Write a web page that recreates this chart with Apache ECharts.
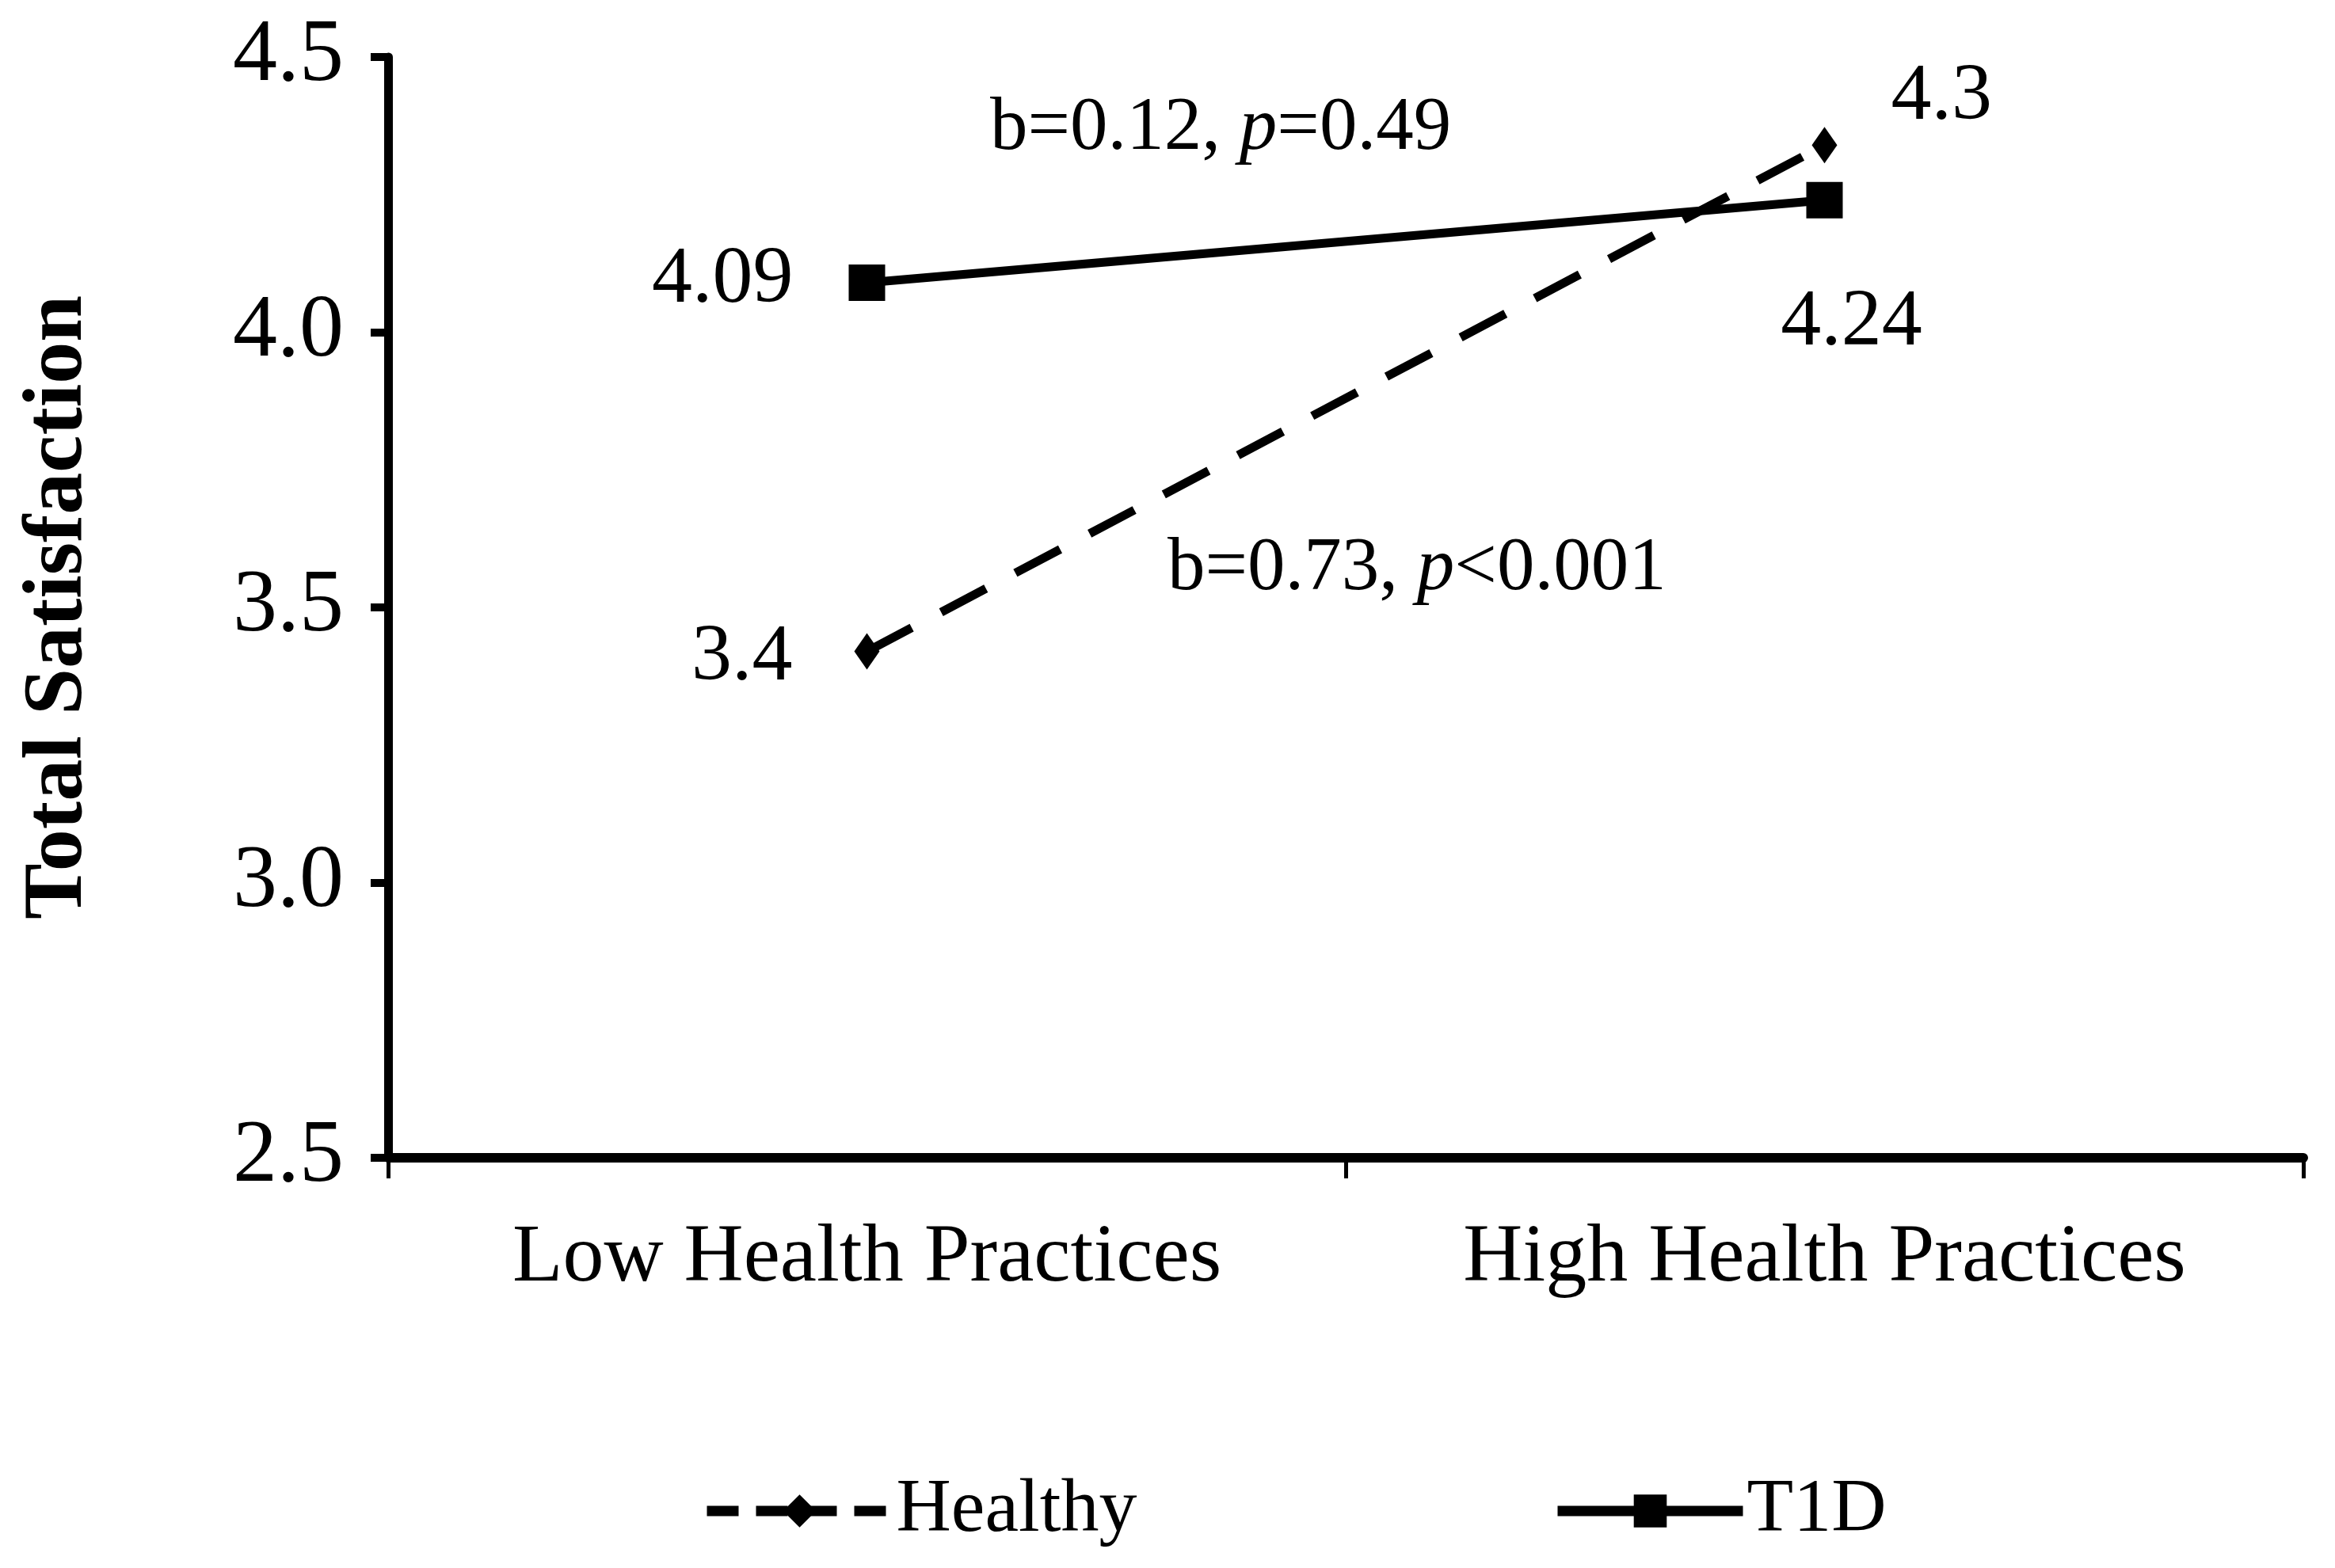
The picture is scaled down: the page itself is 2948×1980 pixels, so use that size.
<!DOCTYPE html>
<html>
<head>
<meta charset="utf-8">
<script src="https://cdn.jsdelivr.net/npm/echarts@6/dist/echarts.min.js"></script>
<style>
html,body{margin:0;padding:0;background:#fff;}
#chart{width:2948px;height:1980px;}
</style>
</head>
<body>
<div id="chart"></div>
<script>
const categories = ['Low Health Practices', 'High Health Practices'];
const healthyValues = [3.42, 4.34];
const healthyLabels = ['3.4', '4.3'];
const t1dValues = [4.09, 4.24];
const t1dLabels = ['4.09', '4.24'];
const yTicks = [2.5, 3.0, 3.5, 4.0, 4.5];
const annotations = ['b=0.12, ', 'p', '=0.49', 'b=0.73, ', 'p', '<0.001'];

const FONT = '"Liberation Serif", "Times New Roman", serif';

const healthyLabelCfg = [
  {position: 'left', distance: 78, offset: [0, 9]},
  {position: 'right', distance: 68, offset: [0, -60]}
];
const t1dLabelCfg = [
  {position: 'left', distance: 70, offset: [0, -3]},
  {position: 'bottom', distance: 82, offset: [34, 0]}
];

function buildData(values, labels, cfg) {
  return values.map((v, i) => ({
    value: v,
    label: Object.assign({
      show: true,
      formatter: labels[i],
      fontFamily: FONT,
      fontSize: 102,
      color: '#000'
    }, cfg[i])
  }));
}

const chart = echarts.init(document.getElementById('chart'));
chart.setOption({
  backgroundColor: '#fff',
  animation: false,
  grid: {left: 490, right: 40, top: 72, bottom: 518, containLabel: false},
  legend: [
    {
      data: ['Healthy'], left: 881, top: 1855,
      itemWidth: 234, itemHeight: 52, itemGap: 10,
      lineStyle: {width: 13, type: [40, 22]},
      textStyle: {fontFamily: FONT, fontSize: 96, color: '#000'}
    },
    {
      data: ['T1D'], left: 1955, top: 1855,
      itemWidth: 234, itemHeight: 52, itemGap: 10,
      lineStyle: {width: 13},
      textStyle: {fontFamily: FONT, fontSize: 96, color: '#000'}
    }
  ],
  xAxis: {
    type: 'category',
    data: categories,
    boundaryGap: true,
    axisLine: {show: true, lineStyle: {color: '#000', width: 12}},
    axisTick: {show: true, length: 26, lineStyle: {color: '#000', width: 5}},
    axisLabel: {fontFamily: FONT, fontSize: 104, color: '#000', margin: 76},
    splitLine: {show: false}
  },
  yAxis: {
    type: 'value',
    min: 2.5, max: 4.5, interval: 0.5,
    name: 'Total Satisfaction',
    nameLocation: 'middle',
    nameGap: 362,
    nameRotate: 90,
    nameTextStyle: {fontFamily: FONT, fontSize: 106, fontWeight: 'bold', color: '#000'},
    axisLine: {show: true, lineStyle: {color: '#000', width: 11}},
    axisTick: {show: true, length: 22, lineStyle: {color: '#000', width: 10}},
    axisLabel: {
      fontFamily: FONT, fontSize: 112, color: '#000', margin: 56,
      formatter: v => (yTicks.indexOf(v) >= 0 ? v.toFixed(1) : '')
    },
    splitLine: {show: false}
  },
  series: [
    {
      name: 'Healthy',
      type: 'line',
      data: buildData(healthyValues, healthyLabels, healthyLabelCfg),
      symbol: 'diamond',
      symbolSize: [32, 46],
      itemStyle: {color: '#000'},
      lineStyle: {color: '#000', width: 11, type: [64, 42]},
      z: 2
    },
    {
      name: 'T1D',
      type: 'line',
      data: buildData(t1dValues, t1dLabels, t1dLabelCfg),
      symbol: 'rect',
      symbolSize: 46,
      itemStyle: {color: '#000'},
      lineStyle: {color: '#000', width: 11, type: 'solid'},
      z: 3
    }
  ],
  graphic: [
    {
      type: 'text', left: 1250, top: 116,
      style: {
        rich: {
          n: {fontFamily: FONT, fontSize: 95, fill: '#000'},
          i: {fontFamily: FONT, fontSize: 95, fontStyle: 'italic', fill: '#000'}
        },
        text: '{n|' + annotations[0] + '}{i|' + annotations[1] + '}{n|' + annotations[2] + '}'
      }
    },
    {
      type: 'text', left: 1474, top: 672,
      style: {
        rich: {
          n: {fontFamily: FONT, fontSize: 95, fill: '#000'},
          i: {fontFamily: FONT, fontSize: 95, fontStyle: 'italic', fill: '#000'}
        },
        text: '{n|' + annotations[3] + '}{i|' + annotations[4] + '}{n|' + annotations[5] + '}'
      }
    }
  ]
});
</script>
</body>
</html>
